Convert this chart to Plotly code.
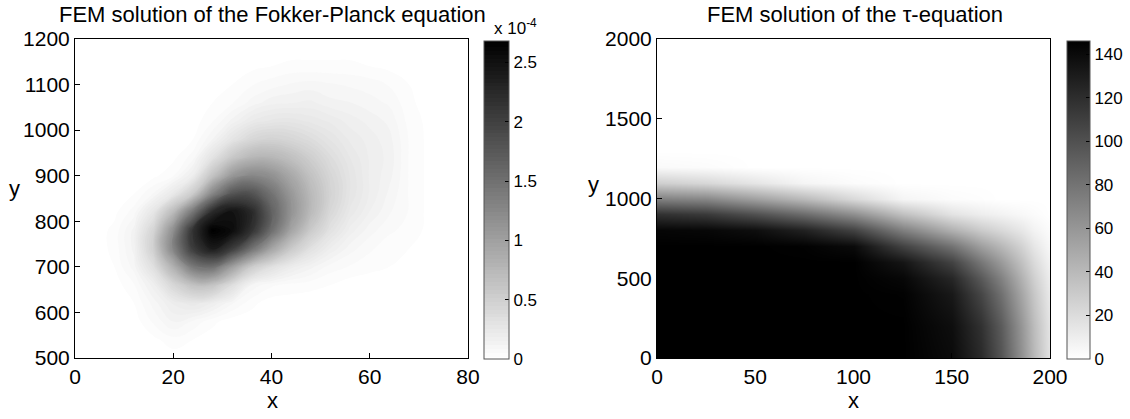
import plotly.graph_objects as go

# ---------------- data: Fokker-Planck density (units of 1e-4) ----------------
fp_x = [0, 4, 8, 12, 16, 20, 24, 28, 32, 36, 40, 44, 48, 52, 56, 60, 64, 68, 72, 76, 80]
fp_y = [500, 540, 580, 620, 660, 700, 740, 780, 820, 860, 900, 940, 980, 1020,
        1060, 1100, 1140, 1180, 1200]
fp_density_e4 = [
    [0] * 21,
    [0, 0, 0, 0, 0.01, 0.04, 0.02, 0, 0, 0, 0, 0, 0, 0, 0, 0, 0, 0, 0, 0, 0],
    [0, 0, 0, 0, 0.06, 0.12, 0.08, 0.03, 0, 0, 0, 0, 0, 0, 0, 0, 0, 0, 0, 0, 0],
    [0, 0, 0, 0.02, 0.10, 0.19, 0.24, 0.18, 0.09, 0.03, 0, 0, 0, 0, 0, 0, 0, 0, 0, 0, 0],
    [0, 0, 0, 0.05, 0.17, 0.42, 0.64, 0.62, 0.35, 0.11, 0.06, 0.04, 0.03, 0.02, 0, 0, 0, 0, 0, 0, 0],
    [0, 0, 0.02, 0.10, 0.34, 0.82, 1.40, 1.50, 1.00, 0.54, 0.33, 0.20, 0.13, 0.07, 0.05, 0.03, 0.02, 0.01, 0, 0, 0],
    [0, 0, 0.03, 0.13, 0.50, 1.28, 2.05, 2.40, 2.05, 1.48, 0.95, 0.56, 0.32, 0.18, 0.10, 0.06, 0.03, 0.02, 0.01, 0, 0],
    [0, 0, 0.03, 0.13, 0.45, 1.18, 2.15, 2.68, 2.55, 2.15, 1.52, 0.95, 0.55, 0.31, 0.17, 0.10, 0.06, 0.04, 0.01, 0, 0],
    [0, 0, 0.01, 0.07, 0.27, 0.72, 1.45, 2.25, 2.50, 2.25, 1.66, 1.13, 0.72, 0.41, 0.24, 0.15, 0.09, 0.05, 0.01, 0, 0],
    [0, 0, 0, 0.02, 0.09, 0.24, 0.55, 1.28, 1.80, 1.82, 1.48, 1.08, 0.73, 0.46, 0.28, 0.18, 0.11, 0.05, 0.01, 0, 0],
    [0, 0, 0, 0, 0.01, 0.05, 0.19, 0.63, 1.08, 1.26, 1.16, 0.91, 0.64, 0.43, 0.28, 0.18, 0.13, 0.05, 0.01, 0, 0],
    [0, 0, 0, 0, 0, 0.01, 0.07, 0.30, 0.58, 0.76, 0.77, 0.66, 0.51, 0.36, 0.25, 0.18, 0.14, 0.05, 0.01, 0, 0],
    [0, 0, 0, 0, 0, 0, 0.02, 0.12, 0.28, 0.42, 0.47, 0.43, 0.36, 0.28, 0.21, 0.17, 0.13, 0.05, 0.01, 0, 0],
    [0, 0, 0, 0, 0, 0, 0, 0.05, 0.13, 0.22, 0.26, 0.27, 0.24, 0.21, 0.17, 0.14, 0.11, 0.04, 0.01, 0, 0],
    [0, 0, 0, 0, 0, 0, 0, 0.02, 0.05, 0.10, 0.14, 0.15, 0.16, 0.13, 0.12, 0.10, 0.08, 0.03, 0, 0, 0],
    [0, 0, 0, 0, 0, 0, 0, 0, 0.02, 0.05, 0.07, 0.09, 0.10, 0.09, 0.08, 0.07, 0.05, 0.02, 0, 0, 0],
    [0, 0, 0, 0, 0, 0, 0, 0, 0, 0.01, 0.02, 0.03, 0.03, 0.03, 0.03, 0.02, 0.01, 0, 0, 0, 0],
    [0] * 21,
    [0] * 21,
]
fp_cmax = 2.68
fp_cbar_ticks = [0, 0.5, 1, 1.5, 2, 2.5]
fp_cbar_text = ["0", "0.5", "1", "1.5", "2", "2.5"]
fp_xticks = [0, 20, 40, 60, 80]
fp_yticks = [500, 600, 700, 800, 900, 1000, 1100, 1200]

# ---------------- data: tau-equation solution ----------------
tau_x = [0, 25, 50, 75, 100, 125, 150, 165, 175, 185, 192, 200]
tau_y = [0, 200, 400, 500, 600, 700, 800, 900, 1000, 1100, 1200, 1300, 2000]
tau_values = [
    [146, 146, 146, 146, 146, 146, 140, 122, 98, 64, 40, 16],
    [146, 146, 146, 146, 146, 146, 138, 118, 94, 61, 38, 15],
    [146, 146, 146, 146, 146, 145, 132, 106, 82, 52, 32, 12],
    [146, 146, 146, 146, 146, 142, 124, 95, 72, 45, 27, 10],
    [146, 146, 146, 146, 146, 134, 108, 78, 58, 36, 21, 7],
    [146, 146, 146, 145, 140, 108, 80, 55, 41, 26, 14, 4],
    [143, 142, 138, 127, 108, 73, 45, 30, 22, 14, 7, 2],
    [118, 113, 100, 84, 64, 36, 16, 10, 7, 4, 2, 0],
    [73, 69, 55, 40, 22, 6, 2, 1, 0, 0, 0, 0],
    [28, 23, 15, 6, 2, 0, 0, 0, 0, 0, 0, 0],
    [3, 2, 0, 0, 0, 0, 0, 0, 0, 0, 0, 0],
    [0] * 12,
    [0] * 12,
]
tau_cmax = 146
tau_cbar_ticks = [0, 20, 40, 60, 80, 100, 120, 140]
tau_xticks = [0, 50, 100, 150, 200]
tau_yticks = [0, 500, 1000, 1500, 2000]

# ---------------- layout helpers (pixel geometry) ----------------
W, H = 1130, 419
FONT = "Liberation Sans, Arial, Helvetica, sans-serif"


def px(v):
    return v / W


def py(v):
    return 1 - v / H


gray = [[0, "#ffffff"], [1, "#000000"]]
plot_top, plot_bot = 39, 358

fig = go.Figure()

fig.add_trace(go.Contour(
    x=fp_x, y=fp_y, z=fp_density_e4, colorscale=gray,
    zmin=0, zmax=fp_cmax, xaxis="x", yaxis="y",
    autocontour=False,
    contours=dict(start=0.02, end=2.66, size=0.033, coloring="fill",
                  showlines=False),
    line=dict(width=0, smoothing=1.3),
    colorbar=dict(
        x=px(484), xanchor="left", y=py((41 + 359) / 2), yanchor="middle",
        len=318, lenmode="pixels", thickness=25, thicknessmode="pixels",
        xpad=0, ypad=0, outlinewidth=1, outlinecolor="#555555",
        tickvals=fp_cbar_ticks, ticktext=fp_cbar_text, ticks="inside",
        ticklen=4, tickcolor="#000000", tickfont=dict(size=17, family=FONT, color="#000"),
    ),
    hoverinfo="skip",
))

fig.add_trace(go.Heatmap(
    x=tau_x, y=tau_y, z=tau_values, zsmooth="best", colorscale=gray,
    zmin=0, zmax=tau_cmax, xaxis="x2", yaxis="y2",
    colorbar=dict(
        x=px(1067), xanchor="left", y=py((41 + 359) / 2), yanchor="middle",
        len=318, lenmode="pixels", thickness=23, thicknessmode="pixels",
        xpad=0, ypad=0, outlinewidth=1, outlinecolor="#555555",
        tickvals=tau_cbar_ticks, ticks="inside",
        ticklen=4, tickcolor="#000000", tickfont=dict(size=17, family=FONT, color="#000"),
    ),
    hoverinfo="skip",
))

axis_common = dict(
    showline=True, mirror=True, linecolor="#000000", linewidth=1,
    ticks="inside", ticklen=5, tickcolor="#000000", showgrid=False,
    zeroline=False, tickfont=dict(size=21, family=FONT, color="#000"),
    fixedrange=True, automargin=False, layer="above traces",
)

fig.update_layout(
    width=W, height=H,
    margin=dict(l=0, r=0, t=0, b=0, autoexpand=False),
    paper_bgcolor="#ffffff", plot_bgcolor="#ffffff",
    showlegend=False,
    xaxis=dict(domain=[px(75), px(468)], range=[0, 80], tickvals=fp_xticks,
               anchor="y", **axis_common),
    yaxis=dict(domain=[py(plot_bot), py(plot_top)], range=[500, 1200],
               tickvals=fp_yticks, anchor="x", **axis_common),
    xaxis2=dict(domain=[px(657), px(1050)], range=[0, 200], tickvals=tau_xticks,
                anchor="y2", **axis_common),
    yaxis2=dict(domain=[py(plot_bot), py(plot_top)], range=[0, 2000],
                tickvals=tau_yticks, anchor="x2", **axis_common),
)

annotations = [
    dict(text="FEM solution of the Fokker-Planck equation", x=px(272), y=py(14),
         font=dict(size=22)),
    dict(text="FEM solution of the \u03c4-equation", x=px(855), y=py(14),
         font=dict(size=22)),
    dict(text="x", x=px(272), y=py(400), font=dict(size=22)),
    dict(text="x", x=px(853), y=py(400), font=dict(size=22)),
    dict(text="y", x=px(14), y=py(189), font=dict(size=22)),
    dict(text="y", x=px(593), y=py(184), font=dict(size=22)),
]
for a in annotations:
    a.update(xref="paper", yref="paper", showarrow=False, xanchor="center",
             yanchor="middle")
    a["font"].update(family=FONT, color="#000")
    fig.add_annotation(**a)

fig.add_annotation(text="x 10<sup>-4</sup>", x=px(492), y=py(27), xref="paper",
                   yref="paper", showarrow=False, xanchor="left", yanchor="middle",
                   font=dict(size=17, family=FONT, color="#000"))

fig.write_html("out.html",
               config={"displayModeBar": False, "staticPlot": True},
               post_script="document.body.style.margin='0px';"
                           "document.body.style.overflow='hidden';")
